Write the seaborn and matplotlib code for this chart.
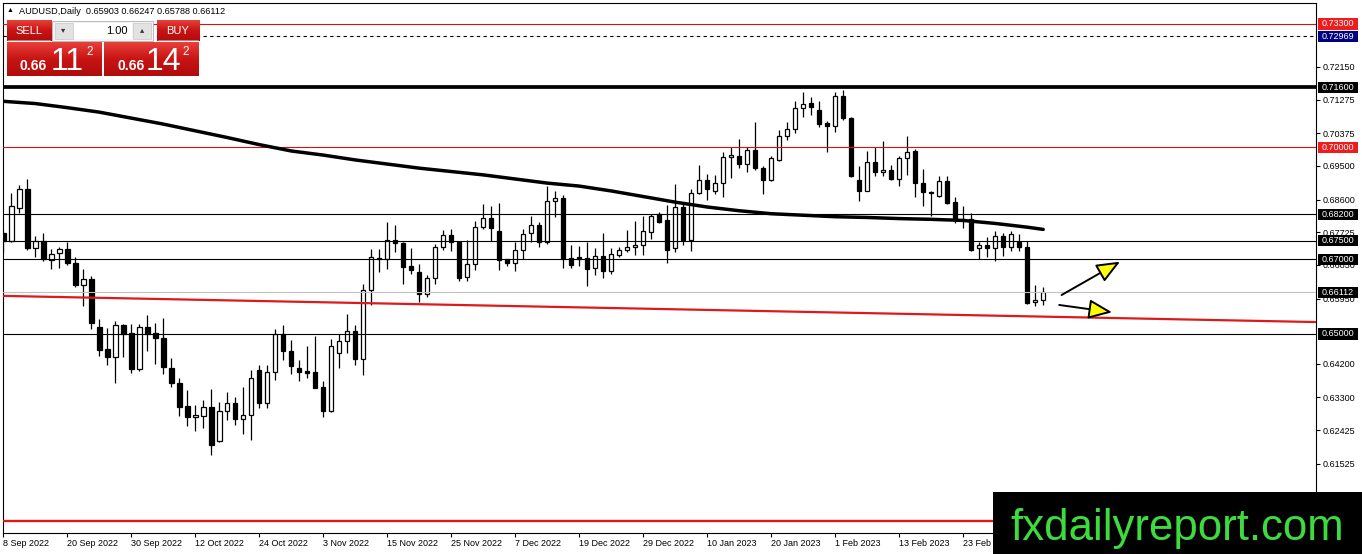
import numpy as np
import pandas as pd
import matplotlib
matplotlib.use('Agg')
import matplotlib.pyplot as plt
from matplotlib.patches import Rectangle
from matplotlib.colors import LinearSegmentedColormap
import seaborn as sns

# daily candles AUDUSD, 8 Sep 2022 -> 9 Mar 2023
opens = [0.6771, 0.6749, 0.6838, 0.6888, 0.6729, 0.6749, 0.6699, 0.6718, 0.6727, 0.6690,
         0.6630, 0.6647, 0.6519, 0.6459, 0.6439, 0.6525, 0.6503, 0.6406, 0.6519, 0.6504,
         0.6490, 0.6410, 0.6370, 0.6306, 0.6277, 0.6280, 0.6304, 0.6213, 0.6293, 0.6314,
         0.6273, 0.6284, 0.6403, 0.6316, 0.6397, 0.6499, 0.6455, 0.6408, 0.6400, 0.6397,
         0.6357, 0.6293, 0.6450, 0.6482, 0.6508, 0.6433, 0.6619, 0.6703, 0.6702, 0.6752,
         0.6743, 0.6681, 0.6667, 0.6606, 0.6649, 0.6734, 0.6765, 0.6747, 0.6652, 0.6688,
         0.6787, 0.6811, 0.6777, 0.6700, 0.6690, 0.6725, 0.6771, 0.6793, 0.6746, 0.6855,
         0.6865, 0.6703, 0.6705, 0.6703, 0.6676, 0.6708, 0.6669, 0.6712, 0.6726, 0.6732,
         0.6738, 0.6774, 0.6820, 0.6806, 0.6729, 0.6840, 0.6753, 0.6878, 0.6913, 0.6884,
         0.6904, 0.6974, 0.6977, 0.6956, 0.6992, 0.6945, 0.6911, 0.6965, 0.7030, 0.7050,
         0.7106, 0.7119, 0.7101, 0.7064, 0.7058, 0.7138, 0.7079, 0.6913, 0.6884, 0.6961,
         0.6934, 0.6940, 0.6916, 0.6970, 0.6989, 0.6904, 0.6880, 0.6869, 0.6910, 0.6853,
         0.6808, 0.6808, 0.6729, 0.6738, 0.6729, 0.6762, 0.6732, 0.6747, 0.6732, 0.6585,
         0.65903]
highs = [0.6776, 0.6878, 0.6900, 0.6915, 0.6762, 0.6771, 0.6727, 0.6734, 0.6746, 0.6707,
         0.6674, 0.6656, 0.6541, 0.6516, 0.6536, 0.6528, 0.6528, 0.6528, 0.6552, 0.6530,
         0.6544, 0.6436, 0.6383, 0.6350, 0.6309, 0.6322, 0.6353, 0.6317, 0.6344, 0.6330,
         0.6359, 0.6404, 0.6417, 0.6417, 0.6514, 0.6525, 0.6483, 0.6430, 0.6468, 0.6494,
         0.6373, 0.6486, 0.6501, 0.6554, 0.6525, 0.6634, 0.6727, 0.6727, 0.6800, 0.6793,
         0.6745, 0.6731, 0.6687, 0.6658, 0.6740, 0.6778, 0.6782, 0.6750, 0.6752, 0.6802,
         0.6848, 0.6844, 0.6851, 0.6702, 0.6745, 0.6782, 0.6815, 0.6799, 0.6896, 0.6882,
         0.6871, 0.6738, 0.6735, 0.6746, 0.6729, 0.6770, 0.6729, 0.6732, 0.6779, 0.6802,
         0.6817, 0.6822, 0.6826, 0.6846, 0.6902, 0.6853, 0.6889, 0.6953, 0.6929, 0.6927,
         0.6987, 0.7001, 0.7023, 0.7001, 0.7068, 0.6950, 0.6977, 0.7046, 0.7068, 0.7124,
         0.7147, 0.7135, 0.7124, 0.7070, 0.7149, 0.7153, 0.7082, 0.6950, 0.6989, 0.7001,
         0.7016, 0.6953, 0.6977, 0.7030, 0.6995, 0.6941, 0.6884, 0.6923, 0.6923, 0.6866,
         0.6844, 0.6824, 0.6746, 0.6759, 0.6777, 0.6771, 0.6777, 0.6768, 0.6750, 0.6631,
         0.66247]
lows = [0.6718, 0.6745, 0.6824, 0.6725, 0.6707, 0.6696, 0.6674, 0.6676, 0.6684, 0.6625,
        0.6576, 0.6513, 0.6442, 0.6417, 0.6368, 0.6439, 0.6395, 0.6401, 0.6454, 0.6420,
        0.6392, 0.6358, 0.6280, 0.6253, 0.6241, 0.6249, 0.6176, 0.6210, 0.6271, 0.6256,
        0.6233, 0.6215, 0.6302, 0.6302, 0.6377, 0.6430, 0.6393, 0.6373, 0.6381, 0.6355,
        0.6277, 0.6290, 0.6410, 0.6448, 0.6417, 0.6390, 0.6578, 0.6665, 0.6674, 0.6720,
        0.6634, 0.6661, 0.6587, 0.6598, 0.6634, 0.6725, 0.6723, 0.6643, 0.6643, 0.6672,
        0.6782, 0.6749, 0.6672, 0.6683, 0.6670, 0.6700, 0.6746, 0.6732, 0.6741, 0.6813,
        0.6678, 0.6677, 0.6683, 0.6629, 0.6658, 0.6649, 0.6660, 0.6705, 0.6720, 0.6711,
        0.6711, 0.6754, 0.6798, 0.6689, 0.6719, 0.6737, 0.6723, 0.6875, 0.6860, 0.6874,
        0.6866, 0.6918, 0.6944, 0.6934, 0.6938, 0.6875, 0.6909, 0.6963, 0.7019, 0.7037,
        0.7082, 0.7086, 0.7055, 0.6987, 0.7040, 0.7073, 0.6920, 0.6857, 0.6882, 0.6923,
        0.6922, 0.6911, 0.6895, 0.6925, 0.6866, 0.6842, 0.6815, 0.6866, 0.6849, 0.6798,
        0.6783, 0.6723, 0.6701, 0.6705, 0.6696, 0.6708, 0.6723, 0.6721, 0.6580, 0.6575,
        0.65788]
closes = [0.6749, 0.6842, 0.6888, 0.6729, 0.6749, 0.6700, 0.6713, 0.6727, 0.6689, 0.6630,
          0.6647, 0.6529, 0.6457, 0.6439, 0.6525, 0.6501, 0.6406, 0.6519, 0.6501, 0.6490,
          0.6412, 0.6370, 0.6305, 0.6277, 0.6283, 0.6304, 0.6202, 0.6293, 0.6314, 0.6273,
          0.6284, 0.6381, 0.6316, 0.6399, 0.6499, 0.6454, 0.6415, 0.6398, 0.6396, 0.6355,
          0.6293, 0.6468, 0.6482, 0.6508, 0.6433, 0.6619, 0.6705, 0.6700, 0.6752, 0.6743,
          0.6680, 0.6672, 0.6606, 0.6649, 0.6734, 0.6765, 0.6747, 0.6650, 0.6688, 0.6787,
          0.6811, 0.6785, 0.6698, 0.6690, 0.6725, 0.6769, 0.6793, 0.6746, 0.6855, 0.6864,
          0.6701, 0.6686, 0.6701, 0.6674, 0.6708, 0.6669, 0.6714, 0.6726, 0.6732, 0.6739,
          0.6777, 0.6815, 0.6801, 0.6726, 0.6840, 0.6753, 0.6877, 0.6913, 0.6887, 0.6904,
          0.6974, 0.6980, 0.6955, 0.6992, 0.6944, 0.6911, 0.6970, 0.7030, 0.7050, 0.7106,
          0.7117, 0.7108, 0.7061, 0.7058, 0.7138, 0.7079, 0.6922, 0.6884, 0.6961, 0.6934,
          0.6940, 0.6916, 0.6970, 0.6987, 0.6904, 0.6880, 0.6878, 0.6910, 0.6852, 0.6808,
          0.6806, 0.6726, 0.6739, 0.6729, 0.6762, 0.6732, 0.6768, 0.6732, 0.6582, 0.6590,
          0.66112]

# moving average readings (bar index, value)
ma_bars = [0, 4, 8, 12, 16, 20, 24, 28, 32, 36, 40, 44, 48, 52, 56, 60, 64, 68,
           72, 76, 80, 84, 88, 92, 96, 100, 104, 108, 112, 116, 120, 124, 128, 130]
ma_vals = [0.7123, 0.7117, 0.7106, 0.7094, 0.7078, 0.7062, 0.7044, 0.7026, 0.7007,
           0.6990, 0.6979, 0.6966, 0.6955, 0.6944, 0.6935, 0.6926, 0.6915, 0.6904,
           0.6896, 0.6883, 0.6868, 0.6853, 0.6840, 0.6830, 0.6822, 0.6818, 0.6814,
           0.6812, 0.6809, 0.6807, 0.6804, 0.6796, 0.6786, 0.6780]

# descending red trendline (bar index, price)
trend_bars = [0, 164]
trend_vals = [0.6602, 0.6532]

date_labels = ['8 Sep 2022', '20 Sep 2022', '30 Sep 2022', '12 Oct 2022', '24 Oct 2022',
               '3 Nov 2022', '15 Nov 2022', '25 Nov 2022', '7 Dec 2022', '19 Dec 2022',
               '29 Dec 2022', '10 Jan 2023', '20 Jan 2023', '1 Feb 2023', '13 Feb 2023',
               '23 Feb 2023']
price_ticks = [0.72150, 0.71275, 0.70375, 0.69500, 0.68600, 0.67725, 0.66850,
               0.65950, 0.64200, 0.63300, 0.62425, 0.61525]

black_levels = [0.682, 0.675, 0.670, 0.650]
red_levels = [0.733, 0.700]
thick_level = 0.716
ask_level = 0.72969
bid_level = 0.66112
floor_level = 0.600

# boxed price labels on the right scale
box_prices = [0.73300, 0.72969, 0.71600, 0.70000, 0.68200, 0.67500, 0.67000, 0.66112, 0.65000]
box_colors = ['#ee1c1c', '#000080', 'black', '#ee1c1c', 'black', 'black', 'black', 'black', 'black']

header = 'AUDUSD,Daily  0.65903 0.66247 0.65788 0.66112'

sns.set_style('white')
plt.rcParams['font.family'] = ['Liberation Sans', 'DejaVu Sans']

W, H = 1362, 554
fig = plt.figure(figsize=(W / 100, H / 100), dpi=100)
ax = fig.add_axes([3 / W, 1 - 533 / H, 1313 / W, 530 / H])
ax.set_xlim(-0.04, 164.1)
ax.set_ylim(0.59672, 0.73862)

df = pd.DataFrame({'open': opens, 'high': highs, 'low': lows, 'close': closes})
df['bar'] = np.arange(len(df))
df['bottom'] = df[['open', 'close']].min(axis=1)
df['body'] = (df['close'] - df['open']).abs().clip(lower=0.00006)
up = df['close'] >= df['open']

ax.vlines(df['bar'], df['low'], df['high'], color='black', lw=0.9, zorder=2)
ax.bar(df['bar'][up], df['body'][up], bottom=df['bottom'][up], width=0.55,
       facecolor='white', edgecolor='black', lw=0.9, zorder=3)
ax.bar(df['bar'][~up], df['body'][~up], bottom=df['bottom'][~up], width=0.55,
       facecolor='black', edgecolor='black', lw=0.9, zorder=3)

for lv in black_levels:
    ax.axhline(lv, color='black', lw=0.8, zorder=4)
for lv in red_levels:
    ax.axhline(lv, color='#d01515', lw=0.8, zorder=4)
ax.axhline(thick_level, color='black', lw=2.7, zorder=4)
ax.axhline(ask_level, color='black', lw=0.8, ls=(0, (3, 3)), zorder=4)
ax.axhline(bid_level, color='#c0c0c0', lw=0.8, zorder=4)
ax.axhline(floor_level, color='#e01818', lw=1.7, zorder=4)

sns.lineplot(x=trend_bars, y=trend_vals, color='#dd1a1a', lw=1.6, ax=ax, zorder=4)
sns.lineplot(x=ma_bars, y=ma_vals, color='black', lw=2.5, ax=ax, zorder=5)

# arrows
arrow_kw = dict(arrowstyle='-|>,head_length=1.2,head_width=0.5', fc='#ffff00',
                ec='black', lw=1.4, mutation_scale=12, shrinkA=0, shrinkB=0)
ax.annotate('', xy=(139.6, 0.66936), xytext=(132.3, 0.66044), arrowprops=arrow_kw, zorder=6)
ax.annotate('', xy=(138.6, 0.65581), xytext=(132.0, 0.65777), arrowprops=arrow_kw, zorder=6)

# axes styling
for sp in ax.spines.values():
    sp.set_visible(True)
    sp.set_color('black')
    sp.set_linewidth(0.8)
ax.yaxis.tick_right()
ax.set_yticks(price_ticks)
ax.set_yticklabels([f'{v:.5f}' for v in price_ticks])
ax.set_xticks(range(0, 8 * len(date_labels), 8))
ax.set_xticklabels(date_labels)
plt.setp(ax.get_xticklabels(), ha='left')
ax.tick_params(axis='y', left=False, right=True, length=3, width=0.8, labelsize=6.5,
               pad=2, colors='black', direction='out')
ax.tick_params(axis='x', bottom=True, length=3, width=0.8, labelsize=6.5, pad=1.5,
               colors='black', direction='out')
ax.set_xlabel('')
ax.set_ylabel('')

tr = ax.get_yaxis_transform()
for p, c in zip(box_prices, box_colors):
    ax.add_patch(Rectangle((1 + 1.5 / 1313, p - 0.00148), 40.5 / 1313, 0.00296,
                           transform=tr, facecolor=c, edgecolor='none', clip_on=False, zorder=7))
    ax.text(1 + 5.5 / 1313, p, f'{p:.5f}', transform=tr, color='white', fontsize=6.5,
            va='center', ha='left', clip_on=False, zorder=8)

# overlay in pixel units for the widget, header and watermark
ov = fig.add_axes([0, 0, 1, 1], zorder=10)
ov.set_xlim(0, W)
ov.set_ylim(H, 0)
ov.axis('off')

ov.text(10, 11, '\u25b2', fontsize=5, ha='center', va='center', color='black')
ov.text(19, 11, header, fontsize=6.6, ha='left', va='center', color='black')

red_cmap = LinearSegmentedColormap.from_list('redgrad', ['#e8403a', '#c81414', '#b00c0c'])
grad = np.linspace(0, 1, 64).reshape(-1, 1)


def red_box(x0, y0, x1, y1):
    ov.imshow(grad, cmap=red_cmap, aspect='auto', extent=(x0, x1, y1, y0), zorder=1)


red_box(6.7, 20.7, 51.7, 40.8)
red_box(156.7, 20.7, 199, 40.8)
red_box(6.7, 42.3, 101.7, 75.7)
red_box(104.3, 42.3, 199, 75.7)
ov.plot([8, 50], [40.2, 40.2], color='#f08080', lw=0.6, zorder=2)
ov.plot([158, 198], [40.2, 40.2], color='#f08080', lw=0.6, zorder=2)
ov.text(28.5, 30.5, 'SELL', color='white', fontsize=8, ha='center', va='center', zorder=3)
ov.text(177.5, 30.5, 'BUY', color='white', fontsize=8, ha='center', va='center', zorder=3)

ov.add_patch(Rectangle((52, 20.7), 101, 20, facecolor='#f4f4f4', edgecolor='#b0b0b0', lw=0.6, zorder=1))
ov.add_patch(Rectangle((54.5, 22.5), 18, 16.5, facecolor='#e2e2e2', edgecolor='#c8c8c8', lw=0.5, zorder=2))
ov.add_patch(Rectangle((73.5, 22.5), 58.5, 16.5, facecolor='white', edgecolor='none', zorder=2))
ov.add_patch(Rectangle((132.5, 22.5), 18.5, 16.5, facecolor='#e2e2e2', edgecolor='#c8c8c8', lw=0.5, zorder=2))
ov.text(63.5, 30.5, '\u25be', fontsize=6, ha='center', va='center', color='#333333', zorder=3)
ov.text(141.7, 30.5, '\u25b4', fontsize=6, ha='center', va='center', color='#333333', zorder=3)
ov.text(127.5, 30.5, '1.00', fontsize=8, ha='right', va='center', color='black', zorder=3)

for x_small, x_big, x_sup, big in [(20, 51, 86, '11'), (117.5, 145.5, 182.5, '14')]:
    ov.text(x_small, 70, '0.66', color='white', fontsize=10, fontweight='bold',
            ha='left', va='baseline', zorder=3)
    ov.text(x_big, 70, big, color='white', fontsize=23, ha='left', va='baseline', zorder=3)
    ov.text(x_sup, 52, '2', color='white', fontsize=8.5, ha='left', va='center', zorder=3)

ov.add_patch(Rectangle((993, 492), 369, 62, facecolor='black', edgecolor='none', zorder=5))
ov.text(1177, 540, 'fxdailyreport.com', color='#3ddc3d', fontsize=31.5,
        ha='center', va='baseline', zorder=6)

fig.savefig('out.png', dpi=100, facecolor='white')
